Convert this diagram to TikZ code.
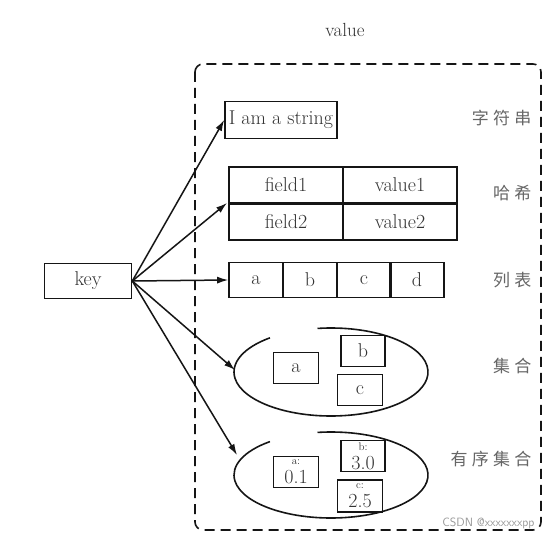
\documentclass[tikz,border=0pt]{standalone}
\usepackage{fontspec}
\usepackage{tikz}
\usetikzlibrary{arrows.meta}
\newfontfamily\cjk[LetterSpace=25]{Noto Sans CJK SC}
\definecolor{RKInk}{HTML}{151515}
\definecolor{RKText}{HTML}{333333}
\definecolor{RKLabel}{HTML}{666666}
\definecolor{RKMark}{HTML}{9A9A9A}

\tikzset{
  cell/.style={draw=RKInk,line width=1.6pt,minimum height=35pt,inner sep=0pt,
    text=RKText,font=\fontsize{20}{22}\selectfont},
  kind/.style={anchor=east,text=RKLabel,font=\cjk\fontsize{17}{19}\selectfont},
  link/.style={draw=RKInk,line width=1.5pt,-{Latex[length=11pt,width=7pt]}},
  bag/.style={draw=RKInk,line width=1.6pt}
}

\begin{document}
\begin{tikzpicture}[x=1pt,y=-1pt]
\path[use as bounding box] (0,0) rectangle (553,540);
\fill[white] (0,0) rectangle (553,540);
\node[text=RKText,font=\fontsize{19}{22}\selectfont] (title) at (345,30) {value};
\draw[RKInk,line width=1.6pt,dash pattern=on 10pt off 6pt,rounded corners=8pt] (195,64) rectangle (541,530);
% key
\node[cell,minimum width=87pt] (key) at (88,281) {key};
% string
\node[cell,minimum width=112pt,minimum height=37pt] (str) at (281,120) {I am a string};
% hash
\node[cell,minimum width=114pt,minimum height=36pt] (f1) at (286,185) {field1};
\node[cell,minimum width=114pt,minimum height=36pt] (v1) at (400,185) {value1};
\node[cell,minimum width=114pt,minimum height=36pt] (f2) at (286,222) {field2};
\node[cell,minimum width=114pt,minimum height=36pt] (v2) at (400,222) {value2};
% list
\node[cell,minimum width=54pt] (la) at (256,280) {a};
\node[cell,minimum width=54pt] (lb) at (310,280) {b};
\node[cell,minimum width=54pt] (lc) at (364,280) {c};
\node[cell,minimum width=54pt] (ld) at (417,280) {d};
% set
\draw[bag] (331,372) ++(262:97 and 44) arc[start angle=262,end angle=591,x radius=97,y radius=44];
\node[cell,minimum width=45pt,minimum height=31pt] (sa) at (296,368) {a};
\node[cell,minimum width=44pt,minimum height=31pt] (sb) at (363,351) {b};
\node[cell,minimum width=45pt,minimum height=31pt] (sc) at (360,390) {c};
\coordinate (setin) at (235,370);
% zset
\draw[bag] (331,475) ++(262:97 and 43) arc[start angle=262,end angle=591,x radius=97,y radius=43];
\node[cell,minimum width=45pt,minimum height=31pt,align=center] (za) at (296,472) {{\fontsize{11}{11}\selectfont a:}\\[-3pt]0.1};
\node[cell,minimum width=44pt,minimum height=31pt,align=center] (zb) at (363,456) {{\fontsize{11}{11}\selectfont b:}\\[-3pt]3.0};
\node[cell,minimum width=45pt,minimum height=32pt,align=center] (zc) at (360,496) {{\fontsize{11}{11}\selectfont c:}\\[-3pt]2.5};
\coordinate (zsetin) at (237,455);
% arrows
\coordinate (hashin) at (227,203);
\draw[link] (key.east) -- (str.west);
\draw[link] (key.east) -- (hashin);
\draw[link] (key.east) -- (la.west);
\draw[link] (key.east) -- (setin);
\draw[link] (key.east) -- (zsetin);
% labels
\node[kind] (kstr) at (535,118) {字符串};
\node[kind] (khash) at (535,193) {哈希};
\node[kind] (klist) at (535,280) {列表};
\node[kind] (kset) at (535,366) {集合};
\node[kind] (kzset) at (535,459) {有序集合};
\node[anchor=east,text=RKMark,font=\sffamily\fontsize{12}{13}\selectfont] (mark) at (538,523) {CSDN @xxxxxxxpp};
\end{tikzpicture}
\end{document}
